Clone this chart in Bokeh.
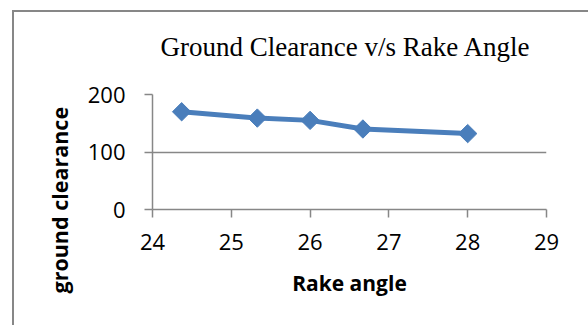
import math
from bokeh.plotting import figure
from bokeh.models import Range1d, FixedTicker, Title
from bokeh.embed import file_html
from bokeh.resources import INLINE

rake_angle = [24.37, 25.33, 26.0, 26.67, 28.0]
ground_clearance = [170, 159, 155, 140, 132]
x_ticks = [24, 25, 26, 27, 28, 29]
y_ticks = [0, 100, 200]

GRAY = "#878787"
BLUE = "#4A7EBB"

p = figure(width=588, height=325, output_backend="svg", toolbar_location=None,
           x_range=Range1d(24, 29), y_range=Range1d(0, 200),
           min_border_left=152, min_border_right=42, min_border_top=94, min_border_bottom=116)
p.styles = {
    "overflow": "hidden",
    "background-color": "white",
    "background-image": "linear-gradient(#878787, #878787), linear-gradient(#878787, #878787)",
    "background-size": "2px 100%, 100% 2px",
    "background-position": "12px 10px, 12px 10px",
    "background-repeat": "no-repeat",
}
p.background_fill_color = None
p.border_fill_color = None
p.outline_line_color = None

p.title = Title(text="Ground Clearance v/s Rake Angle", align="left", offset=8,
                vertical_align="top", standoff=61,
                text_font="Liberation Serif", text_font_size="27px",
                text_font_style="normal", text_color="black")

p.xgrid.grid_line_color = None
p.ygrid.grid_line_color = GRAY
p.ygrid.grid_line_width = 1.5

for ax in (p.xaxis, p.yaxis):
    ax.axis_line_color = GRAY
    ax.axis_line_width = 1.5
    ax.major_tick_line_color = GRAY
    ax.major_tick_line_width = 1.5
    ax.major_tick_out = 8
    ax.major_tick_in = 0
    ax.minor_tick_line_color = None
    ax.major_label_text_font = "Open Sans"
    ax.major_label_text_font_size = "22px"
    ax.major_label_text_color = "black"
    ax.axis_label_text_font = "Open Sans"
    ax.axis_label_text_font_style = "bold"
    ax.axis_label_text_font_size = "21px"
    ax.axis_label_text_color = "black"

p.xaxis.ticker = FixedTicker(ticks=x_ticks)
p.yaxis.ticker = FixedTicker(ticks=y_ticks)
p.xaxis.axis_label = "Rake angle"
p.xaxis.major_label_standoff = 16
p.yaxis.major_label_standoff = 19
p.xaxis.axis_label_standoff = 16

ylab = Title(text="ground clearance", align="left", offset=-84, standoff=22,
             text_font="Open Sans", text_font_style="bold", text_font_size="21.5px",
             text_color="black")
p.add_layout(ylab, "left")

p.line(rake_angle, ground_clearance, line_color=BLUE, line_width=5)
p.scatter(rake_angle, ground_clearance, marker="square", angle=math.pi / 4,
          size=13, fill_color=BLUE, line_color=BLUE)

open("out.html", "w").write(file_html(p, INLINE))
